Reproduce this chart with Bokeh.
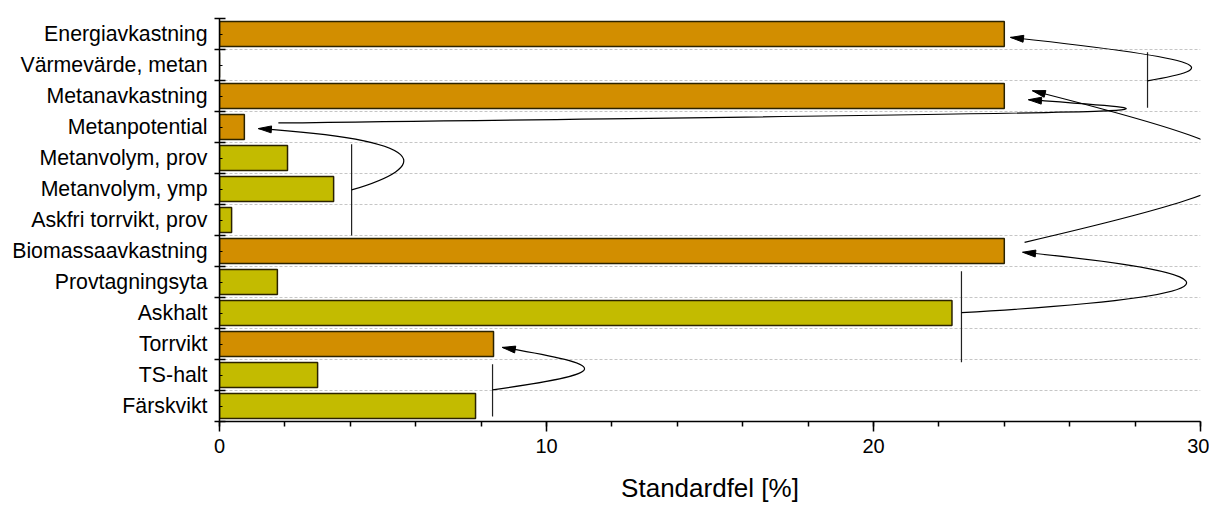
import math
from bokeh.plotting import figure
from bokeh.models import Range1d, FixedTicker, ColumnDataSource
from bokeh.embed import file_html
from bokeh.resources import INLINE

# ---------------- data ----------------
categories = ["Energiavkastning", "Värmevärde, metan", "Metanavkastning", "Metanpotential",
              "Metanvolym, prov", "Metanvolym, ymp", "Askfri torrvikt, prov", "Biomassaavkastning",
              "Provtagningsyta", "Askhalt", "Torrvikt", "TS-halt", "Färskvikt"]
values = [24.0, 0.0, 24.0, 0.76, 2.08, 3.49, 0.37, 24.0, 1.77, 22.4, 8.38, 3.0, 7.83]
kinds = ["derived", "measured", "derived", "derived", "measured", "measured", "measured",
         "derived", "measured", "measured", "derived", "measured", "measured"]
x_major_ticks = [0, 10, 20, 30]
x_minor_ticks = list(range(0, 31, 2))
x_title = "Standardfel [%]"

# error-propagation annotations (brackets + curved arrows), in data coordinates
bracket_x = [28.38, 4.04, 22.69, 8.35]
bracket_top = [11.41, 8.44, 4.35, 1.35]
bracket_bottom = [9.62, 5.50, 1.41, -0.34]

curve_x0 = [28.38, 4.04, 1.80, 24.62, 22.69, 8.35]
curve_y0 = [10.49, 6.97, 9.13, 5.28, 3.01, 0.52]
curve_cx0 = [30.61, 6.51, 30.46, 33.36, 31.53, 12.05]
curve_cy0 = [10.89, 7.74, 9.52, 7.42, 3.55, 1.06]
curve_cx1 = [30.61, 6.51, 30.46, 33.36, 31.53, 12.05]
curve_cy1 = [11.16, 8.58, 9.44, 7.90, 4.23, 1.30]
curve_x1 = [24.19, 1.19, 24.74, 24.86, 24.56, 8.65]
curve_y1 = [11.89, 8.95, 9.88, 10.17, 4.96, 1.89]

# ---------------- styling ----------------
FONT = "Liberation Sans"
COLORS = {"derived": "#D28E00", "measured": "#C3BB00"}
W, H = 1209, 505
ML, MR, MT, MB = 219, 9, 18, 80
X0, X1 = 0, 30
N = len(categories)
Y0, Y1 = -0.5, N - 0.5
SX = (W - ML - MR) / (X1 - X0)
SY = (H - MT - MB) / (Y1 - Y0)

ypos = [N - 1 - i for i in range(N)]
src = ColumnDataSource(dict(y=ypos, value=values, cat=categories,
                            color=[COLORS[k] for k in kinds]))

p = figure(width=W, height=H, x_range=Range1d(X0, X1), y_range=Range1d(Y0, Y1),
           output_backend="svg", toolbar_location=None,
           min_border_left=ML, min_border_right=MR, min_border_top=MT, min_border_bottom=MB)
p.outline_line_color = None
p.xgrid.visible = False
p.ygrid.visible = False
p.background_fill_color = "white"
p.border_fill_color = "white"

# dashed row separators
bounds = [i + 0.5 for i in range(N - 1)]
p.segment(x0=[X0] * len(bounds), x1=[X1] * len(bounds), y0=bounds, y1=bounds,
          line_color="#c6c6c6", line_dash="3 2", line_width=1)

# bars
p.hbar(y="y", left=0, right="value", height=0.8, fill_color="color",
       line_color="#2a2200", line_width=1.5, source=src)

# brackets
p.segment(x0=bracket_x, x1=bracket_x, y0=bracket_top, y1=bracket_bottom,
          line_color="#222222", line_width=1.2)

# curves
p.bezier(x0=curve_x0, y0=curve_y0, x1=curve_x1, y1=curve_y1,
         cx0=curve_cx0, cy0=curve_cy0, cx1=curve_cx1, cy1=curve_cy1,
         line_color="black", line_width=1.2)

# arrow heads (narrow triangles, sized in pixels)
HEAD_L, HEAD_W = 13.0, 3.5
hx, hy = [], []
for ex, ey, cx, cy in zip(curve_x1, curve_y1, curve_cx1, curve_cy1):
    dx, dy = (ex - cx) * SX, (ey - cy) * SY
    n = math.hypot(dx, dy)
    ux, uy = dx / n, dy / n
    px, py = ex * SX, ey * SY
    bx, by = px - HEAD_L * ux, py - HEAD_L * uy
    nx, ny = -uy, ux
    hx.append([px / SX, (bx + HEAD_W * nx) / SX, (bx - HEAD_W * nx) / SX])
    hy.append([py / SY, (by + HEAD_W * ny) / SY, (by - HEAD_W * ny) / SY])
p.patches(xs=hx, ys=hy, fill_color="black", line_color="black", line_width=1)

# y axis
p.yaxis.ticker = FixedTicker(ticks=ypos, minor_ticks=[i - 0.5 for i in range(N + 1)])
p.yaxis.major_label_overrides = {y: c for y, c in zip(ypos, categories)}
p.yaxis.major_tick_in = 3
p.yaxis.major_tick_out = 0
p.yaxis.minor_tick_in = 6
p.yaxis.minor_tick_out = 5
p.yaxis.minor_tick_line_width = 1.5
p.yaxis.major_tick_line_width = 1
p.yaxis.axis_line_width = 1.5
p.yaxis.major_label_standoff = 7
p.yaxis.major_label_text_font = FONT
p.yaxis.major_label_text_font_size = "21.3px"
p.yaxis.major_label_text_color = "black"

# x axis
p.xaxis.ticker = FixedTicker(ticks=x_major_ticks, minor_ticks=x_minor_ticks)
p.xaxis.major_tick_in = 0
p.xaxis.major_tick_out = 10
p.xaxis.minor_tick_in = 0
p.xaxis.minor_tick_out = 5
p.xaxis.major_tick_line_width = 1.5
p.xaxis.minor_tick_line_width = 1.5
p.xaxis.axis_line_width = 1.5
p.xaxis.major_label_standoff = 7
p.xaxis.major_label_text_font = FONT
p.xaxis.major_label_text_font_size = "20px"
p.xaxis.major_label_text_color = "black"
p.xaxis.axis_label = x_title
p.xaxis.axis_label_text_font = FONT
p.xaxis.axis_label_text_font_size = "26px"
p.xaxis.axis_label_text_font_style = "normal"
p.xaxis.axis_label_text_color = "black"
p.xaxis.axis_label_standoff = 17

open("out.html", "w").write(file_html(p, INLINE))
